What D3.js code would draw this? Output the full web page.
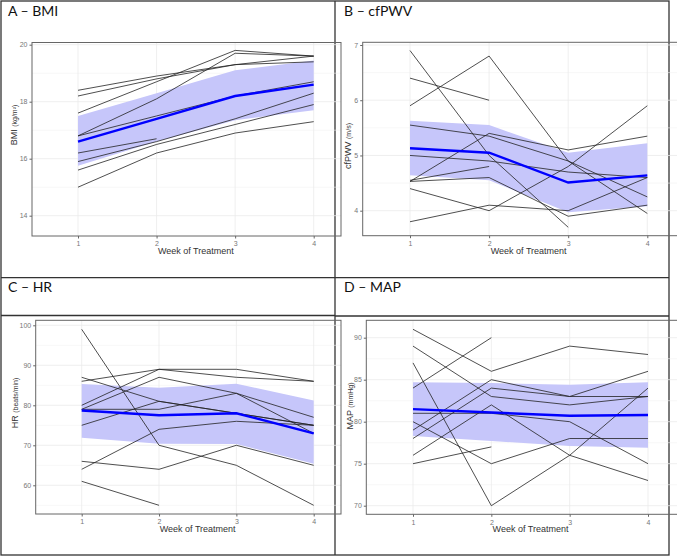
<!DOCTYPE html>
<html>
<head>
<meta charset="utf-8">
<script src="https://cdn.jsdelivr.net/npm/d3@7"></script>
<style>
  body { margin: 0; background: #fff; }
  svg { display: block; }
</style>
</head>
<body>
<div id="chart"></div>
<script>
// weeks on x axis
const weeks = [1, 2, 3, 4];

// A - BMI
const bmiSubjects = [
    [18.4, 18.9, 19.3, 19.6],
    [18.2, 18.8, 19.3, 19.4],
    [17.6, 18.7, 19.8, 19.6],
    [16.8, 18.1, 19.7, 19.6],
    [16.8, 17.5, 18.2, 18.7],
    [16.2, 16.7],
    [15.9, 16.6, 17.4, 18.3],
    [15.6, 16.5, 17.2, 17.9],
    [15.0, 16.2, 16.9, 17.3]
];
const bmiMean = [16.6, 17.4, 18.2, 18.6];
const bmiUpper = [17.5, 18.3, 19.1, 19.45];
const bmiLower = [15.75, 16.6, 17.35, 17.7];
const bmiTicks = [14, 16, 18, 20];

// B - cfPWV
const pwvSubjects = [
    [6.9, 5.0, 3.7],
    [6.4, 6.0],
    [5.9, 6.8, 4.9, 3.95],
    [5.55, 5.35, 4.9, 4.25],
    [5.0, 4.9, 4.7, 4.6],
    [4.53, 5.4, 5.1, 5.35],
    [4.55, 4.8],
    [4.4, 4.0, 4.8, 5.9],
    [3.8, 4.1, 4.0, 4.6],
    [4.53, 4.6, 3.9, 4.1]
];
const pwvMean = [5.13, 5.05, 4.51, 4.64];
const pwvUpper = [5.63, 5.55, 5.05, 5.22];
const pwvLower = [4.64, 4.55, 3.97, 4.08];
const pwvTicks = [4, 5, 6, 7];

// C - HR
const hrSubjects = [
    [99, 70, 65, 55],
    [87, 81, 78, 75],
    [86, 89, 89, 86],
    [80, 89, 87, 86],
    [79, 87, 83, 77],
    [79, 79, 83, 73],
    [75, 81, 78, 75],
    [64, 74, 76, 75],
    [66, 64, 70, 65],
    [61, 55]
];
const hrMean = [78.7, 77.5, 78, 73];
const hrUpper = [85.3, 84.4, 85.4, 81.2];
const hrLower = [71.9, 70.4, 70.3, 65.4];
const hrTicks = [60, 70, 80, 90, 100];

// D - MAP
const mapSubjects = [
    [91, 86, 89, 88],
    [89, 83, 82, 83],
    [87, 70, 76, 84],
    [84, 90],
    [81, 81, 80, 75],
    [80, 75, 78, 78],
    [79, 85, 83, 86],
    [78, 84, 83, 83],
    [76, 82, 76, 73],
    [75, 77]
];
const mapMean = [81.5, 81.1, 80.7, 80.8];
const mapUpper = [84.7, 84.6, 84.4, 84.7];
const mapLower = [78.3, 77.7, 77.1, 76.9];
const mapTicks = [70, 75, 80, 85, 90];

const W = 677, H = 556;
const svg = d3.select("#chart").append("svg")
    .attr("width", W)
    .attr("height", H);

const axisFont = "Liberation Sans, Arial, sans-serif";

// 面板繪製
const drawPanel = (p) => {
    const g = svg.append("g");
    const x = d3.scaleLinear().domain([1, 4]).range(p.xRange);
    const y = d3.scaleLinear().domain([p.ticks[0], p.ticks[p.ticks.length - 1]]).range(p.yRange);

    const [rx0, rx1] = p.rectX;
    const [ry0, ry1] = p.rectY;
    const yMin = y.invert(ry1), yMax = y.invert(ry0);
    const step = p.ticks[1] - p.ticks[0];

    // minor grid
    const minor = d3.range(p.ticks[0] - step / 2, yMax, step).filter(v => v > yMin);
    g.append("g").selectAll("line").data(minor).enter().append("line")
        .attr("x1", rx0).attr("x2", rx1)
        .attr("y1", d => y(d)).attr("y2", d => y(d))
        .attr("stroke", "#f2f2f2").attr("stroke-width", 0.6);
    // major grid
    g.append("g").selectAll("line").data(p.ticks).enter().append("line")
        .attr("x1", rx0).attr("x2", rx1)
        .attr("y1", d => y(d)).attr("y2", d => y(d))
        .attr("stroke", "#ebebeb").attr("stroke-width", 0.8);
    g.append("g").selectAll("line").data(weeks).enter().append("line")
        .attr("x1", d => x(d)).attr("x2", d => x(d))
        .attr("y1", ry0).attr("y2", ry1)
        .attr("stroke", "#ebebeb").attr("stroke-width", 0.8);

    // band
    const area = d3.area()
        .x((d, i) => x(weeks[i]))
        .y0(d => y(d[0]))
        .y1(d => y(d[1]));
    g.append("path")
        .datum(p.lower.map((v, i) => [v, p.upper[i]]))
        .attr("d", area)
        .attr("fill", "#c6c6fa");

    const line = d3.line().x((d, i) => x(weeks[i])).y(d => y(d));
    g.append("g").selectAll("path").data(p.subjects).enter().append("path")
        .attr("d", line)
        .attr("fill", "none")
        .attr("stroke", "#222")
        .attr("stroke-width", 0.8);

    g.append("path")
        .datum(p.mean)
        .attr("d", line)
        .attr("fill", "none")
        .attr("stroke", "#0000ff")
        .attr("stroke-width", 2.4);

    // panel border
    g.append("rect")
        .attr("x", rx0).attr("y", ry0)
        .attr("width", rx1 - rx0).attr("height", ry1 - ry0)
        .attr("fill", "none").attr("stroke", "#666").attr("stroke-width", 1);

    // y axis
    const yAxis = g.append("g")
        .attr("transform", `translate(${rx0},0)`)
        .call(d3.axisLeft(y).tickValues(p.ticks).tickFormat(d3.format("d")).tickSize(2.5).tickPadding(2));
    yAxis.select(".domain").remove();
    yAxis.selectAll(".tick line").attr("stroke", "#666");
    yAxis.selectAll(".tick text").attr("fill", "#777").style("font-size", "7px").style("font-family", axisFont);

    // x axis
    const xAxis = g.append("g")
        .attr("transform", `translate(0,${ry1})`)
        .call(d3.axisBottom(x).tickValues(weeks).tickFormat(d3.format("d")).tickSize(2.5).tickPadding(3));
    xAxis.select(".domain").remove();
    xAxis.selectAll(".tick line").attr("stroke", "#666");
    xAxis.selectAll(".tick text").attr("fill", "#777").style("font-size", "7px").style("font-family", axisFont);

    // axis titles
    g.append("text")
        .attr("x", (x(1) + x(4)) / 2)
        .attr("y", ry1 + 18)
        .attr("text-anchor", "middle")
        .style("font-family", axisFont)
        .style("font-size", "9px")
        .attr("fill", "#333")
        .text("Week of Treatment");

    const yl = g.append("text")
        .attr("transform", `translate(${p.yLabelX},${p.yLabelY}) rotate(-90)`)
        .attr("text-anchor", "middle")
        .style("font-family", axisFont)
        .attr("fill", "#333");
    yl.append("tspan").style("font-size", "9px").text(p.yName + "  ");
    yl.append("tspan").style("font-size", "7px").text(p.yUnit);

    // title
    svg.append("text")
        .attr("x", p.titleX).attr("y", p.titleY)
        .style("font-family", "Lato, 'Open Sans', sans-serif")
        .style("font-size", "14px")
        .attr("fill", "#111")
        .text(p.title);
};

// 外框與分隔線
const frame = svg.append("g").attr("stroke", "#333").attr("stroke-width", 1.3).attr("fill", "none");
frame.append("rect").attr("x", 1).attr("y", 1).attr("width", 668).attr("height", 554);
frame.append("line").attr("x1", 335).attr("x2", 335).attr("y1", 1).attr("y2", 555);
frame.append("line").attr("x1", 1).attr("x2", 669).attr("y1", 277.7).attr("y2", 277.7);
frame.append("line").attr("x1", 1).attr("x2", 335).attr("y1", 315.5).attr("y2", 315.5);
frame.append("line").attr("x1", 335).attr("x2", 669).attr("y1", 316).attr("y2", 316);

drawPanel({
    title: "A – BMI", titleX: 8, titleY: 16,
    subjects: bmiSubjects, mean: bmiMean, upper: bmiUpper, lower: bmiLower, ticks: bmiTicks,
    xRange: [78, 313.7], yRange: [215.7, 44.7],
    rectX: [32, 341], rectY: [42.5, 236],
    yName: "BMI", yUnit: "(kg/m²)", yLabelX: 17, yLabelY: 125
});
drawPanel({
    title: "B – cfPWV", titleX: 344, titleY: 16,
    subjects: pwvSubjects, mean: pwvMean, upper: pwvUpper, lower: pwvLower, ticks: pwvTicks,
    xRange: [410, 647.3], yRange: [210.7, 45],
    rectX: [362.7, 690], rectY: [42.3, 235.7],
    yName: "cfPWV", yUnit: "(m/s)", yLabelX: 351, yLabelY: 146
});
drawPanel({
    title: "C – HR", titleX: 8, titleY: 292,
    subjects: hrSubjects, mean: hrMean, upper: hrUpper, lower: hrLower, ticks: hrTicks,
    xRange: [81.7, 313.7], yRange: [485.3, 325.3],
    rectX: [35.7, 341], rectY: [320.3, 514],
    yName: "HR", yUnit: "(beats/min)", yLabelX: 18, yLabelY: 403
});
drawPanel({
    title: "D – MAP", titleX: 344, titleY: 292,
    subjects: mapSubjects, mean: mapMean, upper: mapUpper, lower: mapLower, ticks: mapTicks,
    xRange: [413, 648], yRange: [505.7, 337.7],
    rectX: [366.3, 690], rectY: [320.3, 514.3],
    yName: "MAP", yUnit: "(mmHg)", yLabelX: 353, yLabelY: 406
});
</script>
</body>
</html>
